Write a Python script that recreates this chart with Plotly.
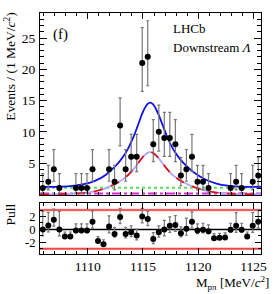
import plotly.graph_objects as go

# ---------------- data ----------------
bin_centers = [1105.93 + 0.5 * i for i in range(40)]
counts = [1, 2, 4, 1, 0, 0, 1, 1, 1, 4, 0, 0, 4, 2, 11, 4, 6, 6, 21, 22,
          8, 10, 9, 9, 8, 3, 4, 6, 2, 2, 1, 0, 0, 0, 1, 2, 1, 0, 2, 3]
pulls = [0.0, 0.6, 1.5, 0.0, -1.1, -1.1, -0.15, -0.15, -0.15, 1.2,
         -1.8, -2.3, 0.45, -0.7, 1.9, -0.7, -0.45, -0.95, 2.0, 1.6,
         -1.5, -0.45, 0.0, 0.55, 0.7, -0.6, 0.1, 1.2, -0.15, -0.05,
         -0.3, -1.35, -1.3, -1.25, -0.05, 0.55, -0.05, -1.1, 0.55, 1.2]
# Poisson (Garwood 68%) interval half-widths: n -> (low, high)
poisson_err = {0: (0.0, 1.841), 1: (0.827, 2.299), 2: (1.291, 2.638),
               3: (1.633, 2.918), 4: (1.914, 3.162), 6: (2.377, 3.583),
               8: (2.768, 3.945), 9: (2.943, 4.110), 10: (3.108, 4.266),
               11: (3.265, 4.416), 21: (4.530, 5.650), 22: (4.640, 5.760)}

curve_mass = [1105.68, 1107.65, 1108.65, 1109.65, 1110.65, 1111.65, 1112.65,
              1113.15, 1113.65, 1114.15, 1114.65, 1114.90, 1115.15, 1115.40,
              1115.65, 1115.90, 1116.15, 1116.40, 1116.65, 1117.15, 1117.65,
              1118.15, 1118.65, 1119.65, 1120.65, 1121.65, 1122.65, 1123.65,
              1125.68]
sig_curve = [0.0, 0.03, 0.09, 0.22, 0.48, 0.98, 1.80, 2.35, 3.07, 4.02, 5.20,
             5.80, 6.28, 6.62, 6.75, 6.62, 6.28, 5.80, 5.25, 4.10, 3.15, 2.47,
             1.93, 1.14, 0.60, 0.28, 0.11, 0.04, 0.01]
bkg_curve = [1.06, 1.06, 1.06, 1.06, 1.06, 1.06, 1.055, 1.055, 1.055, 1.055,
             1.055, 1.055, 1.055, 1.055, 1.05, 1.05, 1.05, 1.05, 1.05, 1.05,
             1.05, 1.05, 1.05, 1.045, 1.045, 1.045, 1.04, 1.04, 1.04]
misid_curve = [0.12, 0.12, 0.12, 0.12, 0.12, 0.12, 0.12, 0.12, 0.12, 0.12,
               0.12, 0.12, 0.12, 0.12, 0.12, 0.12, 0.12, 0.12, 0.12, 0.12,
               0.12, 0.12, 0.12, 0.12, 0.12, 0.12, 0.12, 0.12, 0.12]
total_curve = [b + 2 * s + m for b, s, m in zip(bkg_curve, sig_curve, misid_curve)]

x_ticks = [1110, 1115, 1120, 1125]
y_ticks = [5, 10, 15, 20, 25]
pull_ticks = [-2, 0, 2]

# ---------------- figure ----------------
FONT = "Liberation Serif"
W, H = 279, 294
L, R, T, B = 40, 16, 12, 40
ph = H - T - B
main_dom = [(254 - 195) / ph, 1.0]
pull_dom = [0.0, (254 - 203) / ph]

fig = go.Figure()

# main-panel points
px_, py_, elo, ehi = [], [], [], []
for x, n in zip(bin_centers, counts):
    if n > 0:
        px_.append(x); py_.append(n)
        elo.append(poisson_err[n][0]); ehi.append(poisson_err[n][1])

curve_common = dict(x=curve_mass, mode="lines", xaxis="x", yaxis="y",
                    hoverinfo="skip", showlegend=False)
fig.add_trace(go.Scatter(y=bkg_curve, line=dict(color="#55e055", width=2, dash="dot"), **curve_common))
fig.add_trace(go.Scatter(y=misid_curve, line=dict(color="#dd22dd", width=2, dash="dashdot"), **curve_common))
fig.add_trace(go.Scatter(y=sig_curve, line=dict(color="#b0a4ff", width=1.8, shape="spline"), **curve_common))
fig.add_trace(go.Scatter(y=sig_curve, line=dict(color="#ee0000", width=1.6, dash="dash", shape="spline"), **curve_common))
fig.add_trace(go.Scatter(y=total_curve, line=dict(color="#1010ee", width=1.8, shape="spline"), **curve_common))

fig.add_trace(go.Scatter(
    x=px_, y=py_, mode="markers", xaxis="x", yaxis="y", showlegend=False,
    marker=dict(color="black", size=6),
    error_y=dict(type="data", symmetric=False, array=ehi, arrayminus=elo,
                 color="#777777", thickness=1.2, width=1.5)))

# pull panel
pu, pd = [], []
for n, p in zip(counts, pulls):
    lo, hi = poisson_err[n]
    if n == 0:
        pu.append(0.7); pd.append(0.0)
    elif p >= 0:
        pu.append(hi / lo); pd.append(1.0)
    else:
        pu.append(1.0); pd.append(lo / hi)

for yv, col, wd in [(3, "#ff9999", 2.4), (-3, "#ff9999", 2.4), (3, "#e62020", 1.0), (-3, "#e62020", 1.0), (0, "black", 1.5)]:
    fig.add_trace(go.Scatter(x=[1105.68, 1125.68], y=[yv, yv], mode="lines",
                             xaxis="x2", yaxis="y2", showlegend=False, hoverinfo="skip",
                             line=dict(color=col, width=wd)))

fig.add_trace(go.Scatter(
    x=bin_centers, y=pulls, mode="markers", xaxis="x2", yaxis="y2", showlegend=False,
    marker=dict(color="black", size=6),
    error_y=dict(type="data", symmetric=False, array=pu, arrayminus=pd,
                 color="#777777", thickness=1.2, width=1.5)))

axis_common = dict(showline=True, linecolor="black", linewidth=1, mirror="ticks",
                   ticks="inside", tickcolor="black", showgrid=False, zeroline=False)
tf = dict(family=FONT, size=13.5, color="black")

fig.update_layout(
    width=W, height=H, margin=dict(l=L, r=R, t=T, b=B),
    paper_bgcolor="white", plot_bgcolor="white", showlegend=False,
    xaxis=dict(domain=[0, 1], anchor="y", range=[1105.68, 1125.68], tickvals=x_ticks,
               showticklabels=False, ticklen=6, tickfont=tf,
               minor=dict(dtick=1, ticklen=3, ticks="inside", tickcolor="black"),
               **axis_common),
    yaxis=dict(domain=main_dom, anchor="x", range=[-0.15, 29], tickvals=y_ticks,
               ticklen=7, ticklabelstandoff=1, tickfont=tf,
               minor=dict(dtick=1, ticklen=4, ticks="inside", tickcolor="black"),
               **axis_common),
    xaxis2=dict(domain=[0, 1], anchor="y2", range=[1105.68, 1125.68], tickvals=x_ticks,
                matches="x", ticklen=6, ticklabelstandoff=0, tickfont=tf,
                minor=dict(dtick=1, ticklen=3, ticks="inside", tickcolor="black"),
                **axis_common),
    yaxis2=dict(domain=pull_dom, anchor="x2", range=[-3.8, 4.05], tickvals=pull_ticks,
                ticktext=["-2", "0", "2"], ticklen=6, ticklabelstandoff=1,
                tickfont=dict(family=FONT, size=12.5, color="black"),
                minor=dict(dtick=1, ticklen=3, ticks="inside", tickcolor="black"),
                **axis_common),
)

def pxx(x):
    return (x - L) / (W - L - R)

def pyy(y):
    return (H - B - y) / ph

ann_font = dict(family=FONT, size=13.5, color="black")
fig.add_annotation(x=pxx(10), y=pyy(9), xref="paper", yref="paper", textangle=-90,
                   xanchor="center", yanchor="top", showarrow=False,
                   text="Events / (1 MeV/<i>c</i><sup>2</sup>)", font=ann_font)
fig.add_annotation(x=pxx(10), y=pyy(214), xref="paper", yref="paper", textangle=-90,
                   xanchor="center", yanchor="middle", showarrow=False,
                   text="Pull", font=ann_font)
fig.add_annotation(x=pxx(273), y=pyy(283), xref="paper", yref="paper",
                   xanchor="right", yanchor="middle", showarrow=False,
                   text="M<sub>pπ</sub> [MeV/<i>c</i><sup>2</sup>]",
                   font=dict(family=FONT, size=13, color="black"))
fig.add_annotation(x=pxx(51), y=pyy(34), xref="paper", yref="paper",
                   xanchor="left", yanchor="middle", showarrow=False,
                   text="(f)", font=dict(family=FONT, size=15, color="black"))
fig.add_annotation(x=pxx(172), y=pyy(28), xref="paper", yref="paper",
                   xanchor="left", yanchor="middle", showarrow=False,
                   text="LHCb", font=dict(family=FONT, size=13, color="black"))
fig.add_annotation(x=pxx(172), y=pyy(47), xref="paper", yref="paper",
                   xanchor="left", yanchor="middle", showarrow=False,
                   text="Downstream <i>Λ</i>", font=dict(family=FONT, size=13, color="black"))

fig.write_html("out.html", config={"displayModeBar": False},
               post_script="document.body.style.margin='0';document.body.style.overflow='hidden';")
